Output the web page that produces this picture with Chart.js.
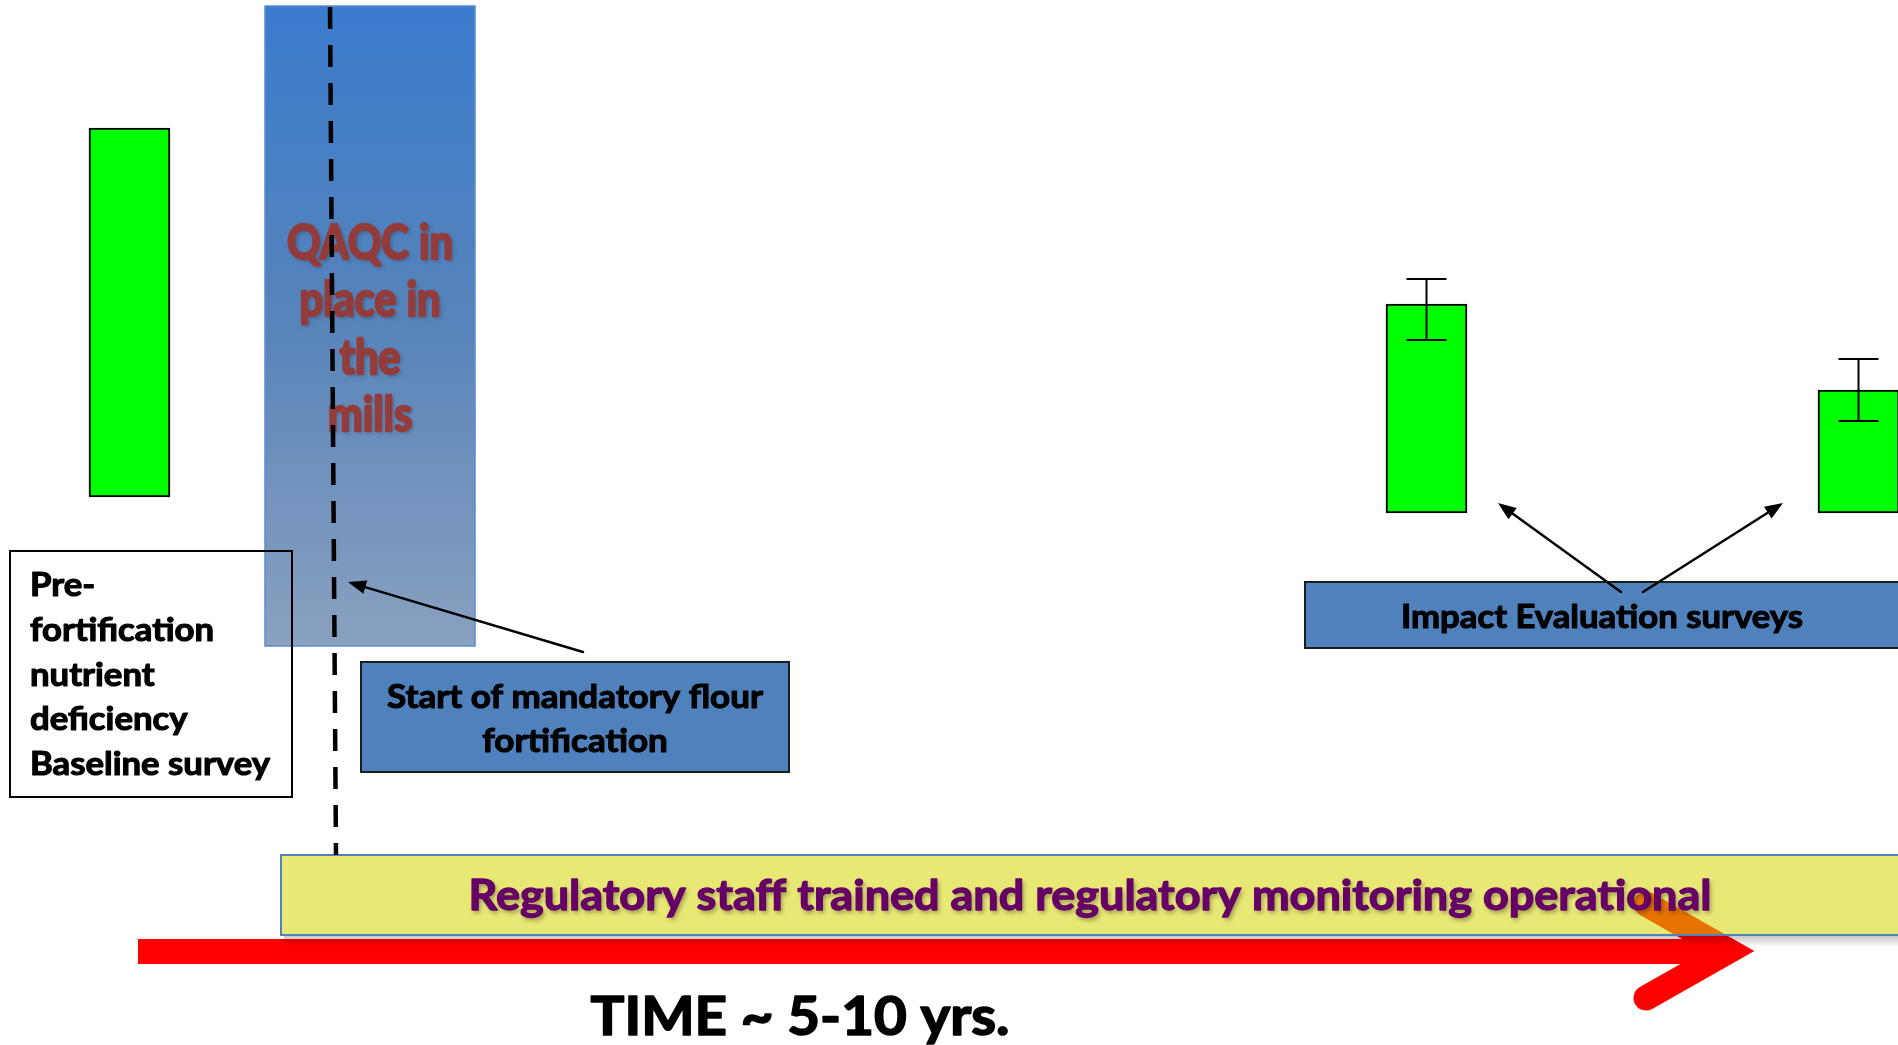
<!DOCTYPE html>
<html lang="en">
<head>
<meta charset="UTF-8">
<title>Flour fortification timeline</title>
<script src="https://cdn.jsdelivr.net/npm/chart.js@4.4.1/dist/chart.umd.min.js"></script>
<style>
  html, body { margin: 0; padding: 0; background: #fff; }
  #wrap { width: 1898px; height: 1045px; position: relative; }
</style>
</head>
<body>
<div id="wrap"><canvas id="chart"></canvas></div>
<script>
// survey bars (time position, bar range, error range)
const surveys = ['Baseline', 'Impact survey 1', 'Impact survey 2'];
const surveyTime = [12.95, 142.65, 185.85];
const barLow = [1.6, 0, 0];
const barHigh = [38.5, 20.9, 12.3];
const errLow = [null, 17.3, 9.2];
const errHigh = [null, 23.4, 15.4];

const qaqcLines = ['QAQC in', 'place in', 'the', 'mills'];
const baselineLines = ['Pre-', 'fortification', 'nutrient', 'deficiency', 'Baseline survey'];
const startLines = ['Start of mandatory flour', 'fortification'];
const impactLabel = 'Impact Evaluation surveys';
const regLabel = 'Regulatory staff trained and regulatory monitoring operational';
const timeLabel = 'TIME ~ 5-10 yrs.';

// draw text stretched/condensed to a given width (Calibri look-alike)
function scaleFor(ctx, txt, w) {
    return w / ctx.measureText(txt).width;
}
function drawText(ctx, txt, x, y, sx, align, thick) {
    ctx.save();
    ctx.translate(x, y);
    ctx.scale(sx, 1);
    ctx.textAlign = align;
    ctx.textBaseline = 'alphabetic';
    ctx.fillText(txt, 0, 0);
    if (thick) {
        ctx.shadowColor = 'transparent';
        ctx.strokeStyle = ctx.fillStyle;
        ctx.lineWidth = thick;
        ctx.lineJoin = 'round';
        ctx.strokeText(txt, 0, 0);
    }
    ctx.restore();
}
function arrow(ctx, x1, y1, x2, y2) {
    const a = Math.atan2(y2 - y1, x2 - x1);
    const len = 18, hw = 7;
    ctx.save();
    ctx.strokeStyle = '#000';
    ctx.fillStyle = '#000';
    ctx.lineWidth = 2.5;
    ctx.beginPath();
    ctx.moveTo(x1, y1);
    ctx.lineTo(x2 - Math.cos(a) * len * 0.8, y2 - Math.sin(a) * len * 0.8);
    ctx.stroke();
    ctx.beginPath();
    ctx.moveTo(x2, y2);
    ctx.lineTo(x2 - Math.cos(a) * len - Math.sin(a) * hw, y2 - Math.sin(a) * len + Math.cos(a) * hw);
    ctx.lineTo(x2 - Math.cos(a) * len + Math.sin(a) * hw, y2 - Math.sin(a) * len - Math.cos(a) * hw);
    ctx.closePath();
    ctx.fill();
    ctx.restore();
}
function blueBox(ctx, x, y, w, h) {
    ctx.fillStyle = '#4f81bd';
    ctx.fillRect(x, y, w, h);
    ctx.strokeStyle = '#1c1c1c';
    ctx.lineWidth = 2;
    ctx.strokeRect(x, y, w, h);
}

const diagram = {
    id: 'diagram',
    afterDatasetsDraw(chart) {
        const ctx = chart.ctx;
        const L = chart.chartArea.left, T = chart.chartArea.top;
        ctx.save();
        ctx.translate(L, T);

        // red time arrow
        ctx.strokeStyle = '#ff0000';
        ctx.fillStyle = '#ff0000';
        ctx.fillRect(138, 939, 1590, 25);
        ctx.lineWidth = 25;
        ctx.lineJoin = 'miter';
        ctx.lineCap = 'round';
        ctx.beginPath();
        ctx.moveTo(1646, 904);
        ctx.lineTo(1729, 951);
        ctx.lineTo(1646, 998);
        ctx.stroke();

        // yellow regulatory band
        ctx.fillStyle = 'rgba(213,213,0,0.54)';
        ctx.fillRect(281, 855, 1640, 80);
        const sh = ctx.createLinearGradient(0, 936, 0, 947);
        sh.addColorStop(0, 'rgba(0,0,0,0.22)');
        sh.addColorStop(1, 'rgba(0,0,0,0)');
        ctx.fillStyle = sh;
        ctx.fillRect(284, 936, 1640, 11);
        ctx.strokeStyle = '#4f81bd';
        ctx.lineWidth = 2;
        ctx.strokeRect(281, 855, 1640, 80);
        ctx.font = 'bold 42px Lato';
        ctx.fillStyle = '#660066';
        ctx.shadowColor = 'rgba(0,0,0,0.35)';
        ctx.shadowOffsetX = 2;
        ctx.shadowOffsetY = 3;
        ctx.shadowBlur = 4;
        drawText(ctx, regLabel, 1090, 910, scaleFor(ctx, regLabel, 1243), 'center', 1.3);
        ctx.shadowColor = 'transparent';

        // QAQC column
        const g = ctx.createLinearGradient(0, 6, 0, 646);
        g.addColorStop(0, 'rgb(58,124,205)');
        g.addColorStop(0.5, 'rgb(88,132,186)');
        g.addColorStop(1, 'rgb(138,161,192)');
        ctx.fillStyle = g;
        ctx.fillRect(265, 6, 210, 640);
        ctx.strokeStyle = '#5b8ccc';
        ctx.lineWidth = 1.5;
        ctx.strokeRect(265, 6, 210, 640);
        ctx.font = 'bold 47px Lato';
        ctx.fillStyle = 'rgba(150,58,55,0.95)';
        ctx.shadowColor = 'rgba(0,0,0,0.3)';
        ctx.shadowOffsetX = 2;
        ctx.shadowOffsetY = 2;
        ctx.shadowBlur = 4;
        let sx = scaleFor(ctx, qaqcLines[0], 166);
        qaqcLines.forEach((t, i) => drawText(ctx, t, 370, 259 + 57.3 * i, sx, 'center', 2.4));
        ctx.shadowColor = 'transparent';

        // dashed start line
        ctx.save();
        ctx.strokeStyle = '#000';
        ctx.lineWidth = 4.5;
        ctx.lineCap = 'butt';
        ctx.setLineDash([22, 16]);
        ctx.beginPath();
        ctx.moveTo(330, 7);
        ctx.lineTo(336, 855);
        ctx.stroke();
        ctx.restore();

        // baseline survey label
        ctx.strokeStyle = '#000';
        ctx.lineWidth = 2;
        ctx.strokeRect(10, 551, 282, 246);
        ctx.font = 'bold 31.5px Lato';
        ctx.fillStyle = '#000';
        sx = scaleFor(ctx, baselineLines[4], 240);
        baselineLines.forEach((t, i) => drawText(ctx, t, 30, 596 + 44.8 * i, sx, 'left', 1.1));

        // start of fortification
        blueBox(ctx, 361, 662, 428, 110);
        ctx.font = 'bold 32px Lato';
        ctx.fillStyle = '#000';
        sx = scaleFor(ctx, startLines[0], 376);
        startLines.forEach((t, i) => drawText(ctx, t, 575, 707.5 + 44.5 * i, sx, 'center', 1.1));
        arrow(ctx, 583, 652, 348, 582);

        // impact evaluation surveys
        blueBox(ctx, 1305, 582, 600, 66);
        ctx.fillStyle = '#000';
        drawText(ctx, impactLabel, 1602, 628, scaleFor(ctx, impactLabel, 402), 'center', 1.1);
        arrow(ctx, 1621, 592, 1498, 503);
        arrow(ctx, 1643, 592, 1783, 503);

        // time caption
        ctx.font = 'bold 53px Lato';
        ctx.fillStyle = '#000';
        drawText(ctx, timeLabel, 800, 1035, scaleFor(ctx, timeLabel, 419), 'center', 1.6);

        ctx.restore();

        // error bars on survey bars
        const xs = chart.scales.x, ys = chart.scales.y;
        ctx.save();
        ctx.strokeStyle = '#000';
        ctx.lineWidth = 2;
        surveyTime.forEach((t, i) => {
            if (errLow[i] === null) return;
            const x = xs.getPixelForValue(t);
            const y1 = ys.getPixelForValue(errHigh[i]);
            const y2 = ys.getPixelForValue(errLow[i]);
            ctx.beginPath();
            ctx.moveTo(x, y1); ctx.lineTo(x, y2);
            ctx.moveTo(x - 20, y1); ctx.lineTo(x + 20, y1);
            ctx.moveTo(x - 20, y2); ctx.lineTo(x + 20, y2);
            ctx.stroke();
        });
        ctx.restore();
    }
};

new Chart(document.getElementById('chart'), {
    type: 'bar',
    data: {
        datasets: [{
            label: 'Nutrient deficiency',
            data: surveyTime.map((t, i) => ({ x: t, y: [barLow[i], barHigh[i]] })),
            backgroundColor: '#00ff00',
            borderColor: '#000',
            borderWidth: 2,
            borderSkipped: false,
            barThickness: 81
        }]
    },
    options: {
        responsive: true,
        maintainAspectRatio: false,
        animation: false,
        layout: { padding: 0 },
        plugins: { legend: { display: false }, tooltip: { enabled: false } },
        scales: {
            x: { type: 'linear', min: 0, max: 189.8, offset: false, display: false },
            y: { type: 'linear', min: -53.2, max: 51.3, display: false }
        }
    },
    plugins: [diagram]
});
</script>
</body>
</html>
